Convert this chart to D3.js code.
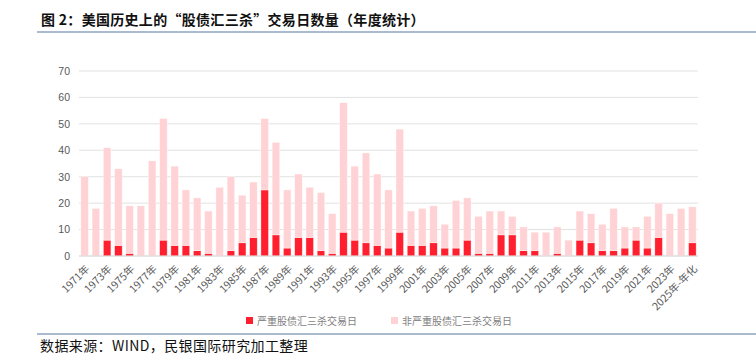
<!DOCTYPE html>
<html>
<head>
<meta charset="utf-8">
<script src="https://cdn.jsdelivr.net/npm/d3@7"></script>
<style>
  body { margin: 0; background: #fff; }
  svg { display: block; }
</style>
</head>
<body>
<div id="chart"></div>
<script>
// 年份标签 1971 - 2025（最后一年为年化）
const years = ['1971年','1972年','1973年','1974年','1975年','1976年','1977年','1978年','1979年','1980年',
  '1981年','1982年','1983年','1984年','1985年','1986年','1987年','1988年','1989年','1990年',
  '1991年','1992年','1993年','1994年','1995年','1996年','1997年','1998年','1999年','2000年',
  '2001年','2002年','2003年','2004年','2005年','2006年','2007年','2008年','2009年','2010年',
  '2011年','2012年','2013年','2014年','2015年','2016年','2017年','2018年','2019年','2020年',
  '2021年','2022年','2023年','2024年','2025年-年化']

// 严重股债汇三杀交易日
const severe = [0,0,6,4,1,0,0,6,4,4, 2,1,0,2,5,7,25,8,3,7, 7,2,1,9,6,5,4,3,9,4,
  4,5,3,3,6,1,1,8,8,2, 2,0,1,0,6,5,2,2,3,6, 3,7,0,0,5]
// 合计交易日（用于计算非严重部分）
const total = [30,18,41,33,19,19,36,52,34,25, 22,17,26,30,23,28,52,43,25,31, 26,24,16,58,34,39,31,25,48,17,
  18,19,12,21,22,15,17,17,15,11, 9,9,11,6,17,16,12,18,11,11, 15,20,16,18,18.6]
// 非严重股债汇三杀交易日
const mild = total.map((t, i) => t - severe[i])

const yTicks = [0,10,20,30,40,50,60,70]
const seriesNames = ['严重股债汇三杀交易日', '非严重股债汇三杀交易日']
const colors = ['#FF1F2E', '#FFD3D5']

const width = 756, height = 361
const margin = {left: 79, right: 58, top: 71, bottom: 105}

const svg = d3.select('#chart').append('svg')
  .attr('width', width)
  .attr('height', height)
  .style('font-family', '"Noto Sans CJK SC", "Noto Sans", sans-serif')

// 标题
svg.append('text')
  .attr('x', 41)
  .attr('y', 25)
  .attr('font-size', 14)
  .attr('font-weight', 'bold')
  .attr('letter-spacing', 0.3)
  .attr('fill', '#111')
  .text('图 2：美国历史上的“股债汇三杀”交易日数量（年度统计）')

svg.append('line')
  .attr('x1', 37).attr('x2', width)
  .attr('y1', 32).attr('y2', 32)
  .attr('stroke', '#8EA3BF')
  .attr('stroke-width', 1.5)

const x = d3.scaleBand()
  .domain(years)
  .range([margin.left, width - margin.right])
  .paddingInner(0.33)
  .paddingOuter(0.165)

const y = d3.scaleLinear()
  .domain([0, 70])
  .range([height - margin.bottom, margin.top])

// 网格线
svg.append('g')
  .selectAll('line')
  .data(yTicks)
  .enter()
  .append('line')
  .attr('x1', margin.left)
  .attr('x2', width - margin.right)
  .attr('y1', d => y(d))
  .attr('y2', d => y(d))
  .attr('stroke', '#E2E2E2')
  .attr('stroke-width', 1)

// y 轴
const yAxis = svg.append('g')
  .attr('transform', `translate(${margin.left - 9},0)`)
  .call(d3.axisLeft(y).tickValues(yTicks).tickSize(0).tickPadding(0))
yAxis.select('.domain').remove()
yAxis.selectAll('text')
  .attr('font-size', 10.5)
  .attr('fill', '#595959')
  .style('font-family', '"Liberation Sans", Arial, sans-serif')

// 堆叠
const rows = years.map((yr, i) => ({year: yr, severe: severe[i], mild: mild[i]}))
const stack = d3.stack().keys(['severe', 'mild'])
const layers = stack(rows)

svg.append('g')
  .selectAll('g')
  .data(layers)
  .enter()
  .append('g')
  .attr('fill', (d, i) => colors[i])
  .selectAll('rect')
  .data(d => d)
  .enter()
  .append('rect')
  .attr('x', d => x(d.data.year))
  .attr('y', d => y(d[1]))
  .attr('width', x.bandwidth())
  .attr('height', d => Math.max(0, y(d[0]) - y(d[1])))
  .attr('stroke', '#fff')
  .attr('stroke-opacity', 0.6)
  .attr('stroke-width', 0.6)

// 底线
svg.append('line')
  .attr('x1', margin.left).attr('x2', width - margin.right)
  .attr('y1', y(0)).attr('y2', y(0))
  .attr('stroke', '#D9D9D9')
  .attr('stroke-width', 1)

// x 轴标签（隔年显示）
svg.append('g')
  .selectAll('text')
  .data(years.filter((d, i) => i % 2 === 0))
  .enter()
  .append('text')
  .attr('transform', d => `translate(${x(d) + x.bandwidth() / 2 + 3},${y(0) + 11}) rotate(-45)`)
  .attr('text-anchor', 'end')
  .attr('dy', '0.35em')
  .attr('font-size', 10.5)
  .attr('fill', '#595959')
  .text(d => d)

// 图例
const legend = svg.append('g')
  .selectAll('g')
  .data(seriesNames)
  .enter()
  .append('g')
  .attr('transform', (d, i) => `translate(${i === 0 ? 246 : 391},317)`)
legend.append('rect')
  .attr('width', 7).attr('height', 7)
  .attr('fill', (d, i) => colors[i])
legend.append('text')
  .attr('x', 11)
  .attr('y', 4)
  .attr('dy', '0.35em')
  .attr('font-size', 10)
  .attr('fill', '#7F7F7F')
  .text(d => d)

// 底部分隔线与数据来源
svg.append('line')
  .attr('x1', 37).attr('x2', width)
  .attr('y1', 334).attr('y2', 334)
  .attr('stroke', '#8EA3BF')
  .attr('stroke-width', 1.5)

svg.append('text')
  .attr('x', 40)
  .attr('y', 351)
  .attr('font-size', 14)
  .attr('letter-spacing', 0.4)
  .attr('fill', '#111')
  .text('数据来源：WIND，民银国际研究加工整理')
</script>
</body>
</html>
